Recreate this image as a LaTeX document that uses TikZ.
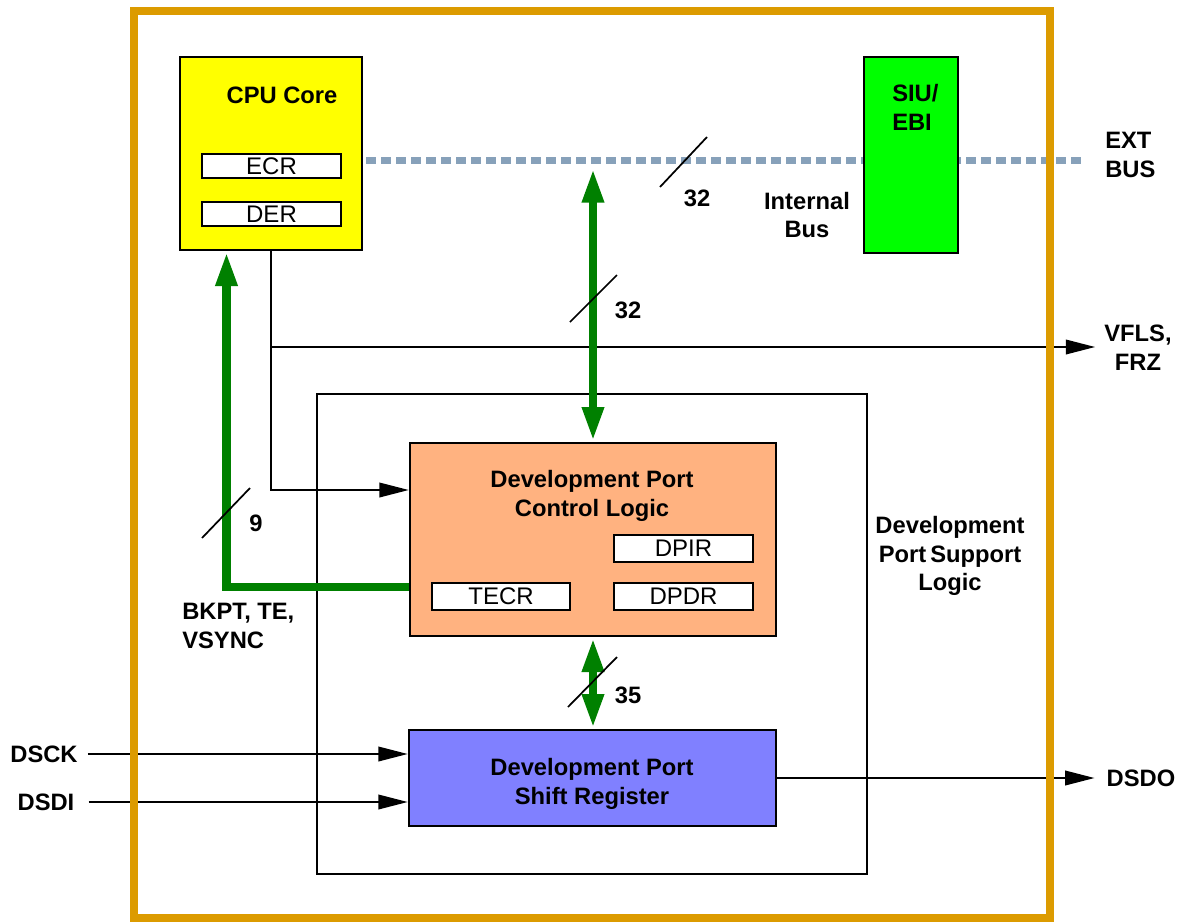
\documentclass[tikz,border=0pt]{standalone}
\usepackage{fontspec}
\setmainfont{Liberation Sans}
\usetikzlibrary{arrows.meta,calc}
\definecolor{gold}{RGB}{220,155,0}
\definecolor{busgray}{RGB}{135,161,186}
\definecolor{dkgreen}{RGB}{0,128,0}
\definecolor{cpuyellow}{RGB}{255,255,0}
\definecolor{siugreen}{RGB}{0,255,0}
\definecolor{ctlorange}{RGB}{255,178,128}
\definecolor{shiftblue}{RGB}{128,128,255}
\begin{document}
\begin{tikzpicture}[x=0.75pt,y=-0.75pt,
  blk/.style={draw=black, line width=2pt, inner sep=0pt},
  reg/.style={blk, fill=white, font=\fontsize{18}{21}\selectfont},
  lbl/.style={font=\fontsize{17.8}{21.5}\selectfont\bfseries, inner sep=0pt, align=center},
  lbll/.style={lbl, align=left},
  sig/.style={line width=1.2pt, -{Triangle[length=22pt,width=11pt]}},
  gbus/.style={draw=dkgreen, line width=6.5pt},
  gtip/.style={-{Triangle[length=26pt,width=15pt]}},
  gtips/.style={{Triangle[length=26pt,width=15pt]}-{Triangle[length=26pt,width=15pt]}},
  busline/.style={draw=busgray, line width=5.25pt, dash pattern=on 7.5pt off 3.75pt},
  slash/.style={line width=1.3pt}]
\useasboundingbox (0,0) rectangle (1182,922);

% inner support-logic box
\node[blk, minimum width=412.5pt, minimum height=360pt] (dpsl) at (592,634) {};

% CPU core
\node[blk, fill=cpuyellow, minimum width=136.5pt, minimum height=144.75pt] (cpu) at (271,153.5) {};
\node[lbl] (cputitle) at (282,95) {CPU Core};
\node[reg, minimum width=104.25pt, minimum height=18pt] (ecr) at (271.5,166) {ECR};
\node[reg, minimum width=104.25pt, minimum height=18pt] (der) at (271.5,214) {DER};

% internal bus
\coordinate (busend) at (1082,160);
\draw[busline] ($(cpu.east)+(3,6.5)$) -- (busend);
\node[blk, fill=siugreen, minimum width=70.5pt, minimum height=147pt] (siu) at (911,155) {};
\node[lbll, anchor=north west] (siutitle) at (892,84) {SIU/\\EBI};
\node[lbl] (ibus) at (807,215) {Internal\\Bus};
\node[lbll, anchor=west] (extbus) at (1105,155) {EXT\\BUS};
\draw[slash] (660,187) -- (707,137);
\node[lbl] (w32a) at (697,198) {32};

% control logic
\node[blk, fill=ctlorange, minimum width=274.5pt, minimum height=144.75pt] (ctl) at (593,539.5) {};
\node[lbl] (ctltitle) at (592,496) {Development Port\\Control Logic};
\node[reg, minimum width=104.25pt, minimum height=20.25pt] (dpir) at (683.5,548.5) {DPIR};
\node[reg, minimum width=104.25pt, minimum height=20.25pt] (dpdr) at (683.5,596.5) {DPDR};
\node[reg, minimum width=103.5pt, minimum height=20.25pt] (tecr) at (501,596.5) {TECR};

% shift register
\node[blk, fill=shiftblue, minimum width=275.25pt, minimum height=72pt] (shift) at (592.5,778) {};
\node[lbl] (shifttitle) at (592,784) {Development Port\\Shift Register};

\node[lbl] (dpsltitle) at (950,556) {Development\\Port\kern3pt Support\\Logic};

% CPU -> control logic, VFLS/FRZ
\node[lbl] (vfls) at (1138,348) {VFLS,\\FRZ};
\draw[sig] (cpu.south) |- ($(ctl.west)+(0,-49.5)$);
\draw[sig] (cpu.south |- 0,347) -- ($(vfls.west)+(-9,-1)$);

% green buses
\draw[gbus, gtip] ($(ctl.west)+(0,47.5)$) -| ($(cpu.south)+(-44.5,0)$);
\draw[slash] (202,538) -- (250,488);
\node[lbl] (w9) at (256,523) {9};
\node[lbll, anchor=north west] (bkpt) at (182,603) {BKPT, TE,\\VSYNC};

\draw[gbus, gtips] (593,168) -- (ctl.north);
\draw[slash] (570,322) -- (617,275);
\node[lbl] (w32b) at (628,310) {32};

\draw[gbus, gtips] (ctl.south) -- (shift.north -| ctl.south);
\draw[slash] (568,707) -- (617,657);
\node[lbl] (w35) at (628,695) {35};

% external pins
\node[lbl] (dsck) at (44,754) {DSCK};
\node[lbl] (dsdi) at (46,802) {DSDI};
\node[lbl] (dsdo) at (1141,778) {DSDO};
\draw[sig] ($(dsck.east)+(10,0)$) -- (dsck -| shift.west);
\draw[sig] ($(dsdi.east)+(14,0)$) -- (dsdi -| shift.west);
\draw[sig] (shift.east) -- ($(dsdo.west)+(-12,0)$);

% outer chip boundary
\draw[gold, line width=6pt] (134,11) rectangle (1050,918);
\end{tikzpicture}
\end{document}
